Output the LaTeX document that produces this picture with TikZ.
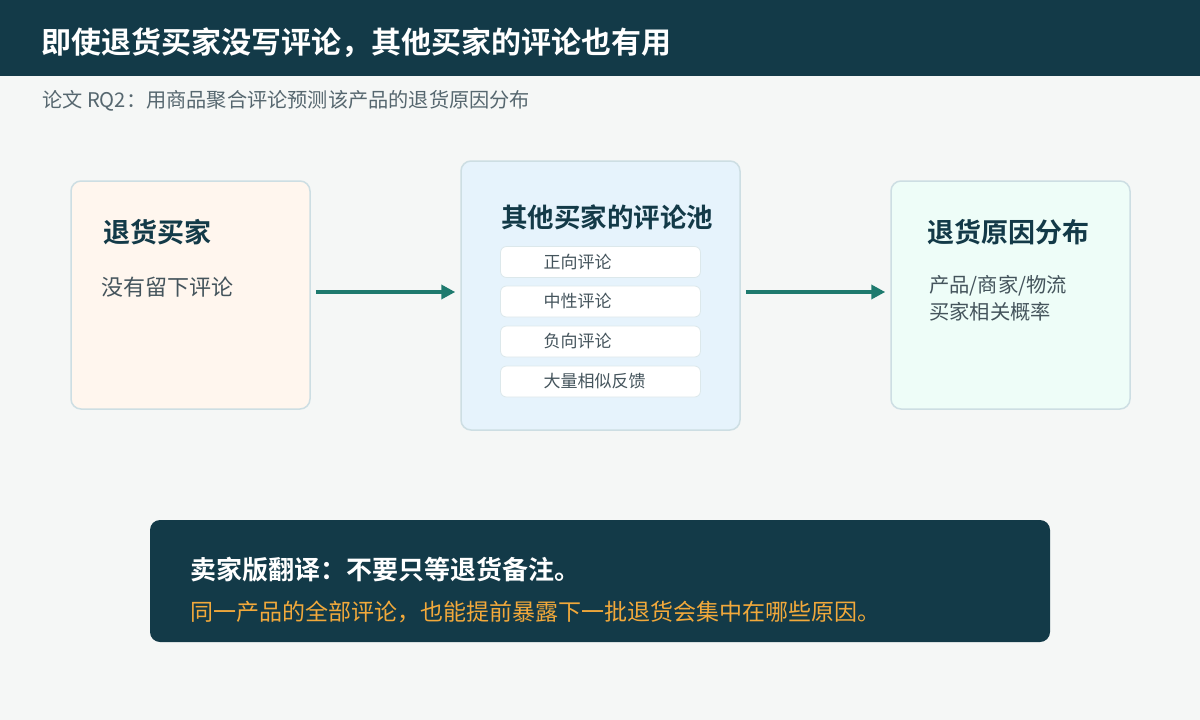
\documentclass[tikz,border=0pt]{standalone}
\usepackage{fontspec}
\setmainfont{Noto Sans CJK SC}[BoldFont={Noto Sans CJK SC Bold}]
\usetikzlibrary{arrows.meta, positioning}
\definecolor{encre}{HTML}{133A48}
\definecolor{fond}{HTML}{F5F7F6}
\definecolor{bord}{HTML}{CDDEE3}
\definecolor{sarcelle}{HTML}{1E7A6E}
\definecolor{texte}{HTML}{44545C}
\definecolor{gris}{HTML}{56676F}
\definecolor{peche}{HTML}{FFF6EE}
\definecolor{ciel}{HTML}{E6F3FC}
\definecolor{menthe}{HTML}{EEFDF8}
\definecolor{ambre}{HTML}{F2A93B}
\tikzset{
  carte/.style={rectangle, rounded corners=10pt, draw=bord, line width=1.5pt,
    minimum width=239pt, minimum height=228pt, inner sep=0pt},
  item/.style={rectangle, rounded corners=6pt, draw=bord!70, fill=white, line width=0.8pt,
    minimum width=200pt, minimum height=31pt, text width=114pt, inner xsep=43pt,
    inner ysep=0pt, align=left, font=\fontsize{17}{20}\selectfont, text=texte},
  titre/.style={anchor=west, inner sep=0pt, font=\fontsize{27}{31}\selectfont\bfseries, text=encre},
  corps/.style={anchor=west, inner sep=0pt, align=left, text=texte},
  fleche/.style={-{Triangle[length=14pt, width=14pt]}, line width=4.5pt, color=sarcelle},
}

\begin{document}
\begin{tikzpicture}[x=1pt, y=-1pt]
    \fill[fond] (0,0) rectangle (1200,720);
    \useasboundingbox (0,0) rectangle (1200,720);
    \fill[encre] (0,0) rectangle (1200,76);
    \node[anchor=west, inner sep=0pt, text=white, font=\fontsize{30}{34}\selectfont\bfseries] (entete) at (41,43) {即使退货买家没写评论，其他买家的评论也有用};
    \node[anchor=west, inner sep=0pt, text=gris, font=\fontsize{20.2}{24}\selectfont] (soustitre) at (42,101) {论文 RQ2：用商品聚合评论预测该产品的退货原因分布};

    % les trois cartes
    \node[carte, fill=peche] (acheteur) at (190.5,295) {};
    \node[carte, fill=ciel, minimum width=279pt, minimum height=269pt] (avis) at (600.5,295.5) {};
    \node[carte, fill=menthe] (raisons) at (1010.5,295) {};

    \node[titre] (t1) at (103,232) {退货买家};
    \node[corps, font=\fontsize{22}{26}\selectfont] (c1) at (101,287) {没有留下评论};

    \node[titre, font=\fontsize{26.5}{30}\selectfont\bfseries] (t2) at (501,217) {其他买家的评论池};
    \node[item] (pos) at (600.5,262) {正向评论};
    \node[item] (neu) at (600.5,301.5) {中性评论};
    \node[item] (neg) at (600.5,341.5) {负向评论};
    \node[item] (masse) at (600.5,381.5) {大量相似反馈};

    \node[titre] (t3) at (927,232) {退货原因分布};
    \node[corps, font=\fontsize{20.3}{26.5}\selectfont] (c3) at (929,298) {产品/商家/物流\\买家相关概率};

    \draw[fleche, shorten <=5pt, shorten >=5pt] ([yshift=3pt]acheteur.east) -- ([yshift=3pt]acheteur.east -| avis.west);
    \draw[fleche, shorten <=5pt, shorten >=5pt] ([yshift=3pt]raisons.west -| avis.east) -- ([yshift=3pt]raisons.west);

    % bandeau du bas
    \node[rectangle, rounded corners=10pt, fill=encre, minimum width=900pt, minimum height=122pt] (bandeau) at (600,581) {};
    \node[anchor=west, inner sep=0pt, text=white, font=\fontsize{26}{30}\selectfont\bfseries] (lecon) at (190,570) {卖家版翻译：不要只等退货备注。};
    \node[anchor=west, inner sep=0pt, text=ambre, font=\fontsize{23}{27}\selectfont] (detail) at (190,612) {同一产品的全部评论，也能提前暴露下一批退货会集中在哪些原因。};
\end{tikzpicture}
\end{document}
